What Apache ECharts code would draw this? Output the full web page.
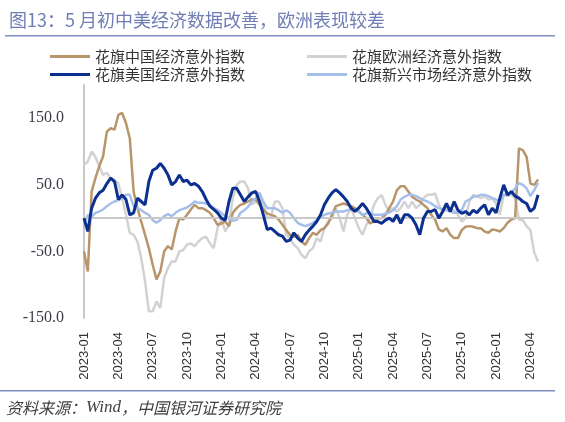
<!DOCTYPE html>
<html>
<head>
<meta charset="utf-8">
<script src="https://cdn.jsdelivr.net/npm/echarts@6/dist/echarts.min.js"></script>
<style>
  html, body { margin: 0; padding: 0; background: #fff; }
  #chart { width: 565px; height: 422px; }
</style>
</head>
<body>
<div id="chart"></div>
<script>
// three readings per month (1st, 11th, 21st), from 2023-01 to early 2026-05
var days = [1, 11, 21];
var dates = [];
for (var y = 2023; y <= 2026; y++) {
  for (var mo = 1; mo <= 12; mo++) {
    if (y === 2026 && mo > 4) break;
    for (var d = 0; d < 3; d++) {
      dates.push(y + '-' + (mo < 10 ? '0' + mo : mo) + '-' + (days[d] < 10 ? '0' + days[d] : days[d]));
    }
  }
}

var china = [
  -50, -80, 40, 60, 78, 93, 130, 135, 133, 155, 158, 143, 120, 40, 15, -5, -25, -45, -70, -92,
  -80, -50, -42, -47, -20, 0, -2, 5, 13, 20, 15, 15, 12, 8, 0, -10, -8, -5, -12, 8,
  15, 20, 22, 25, 28, 28, 20, 13, 7, 5, 3, -2, -10, -18, -25, -28, -25, -35, -40, -30,
  -22, -25, -18, -15, -8, 5, 18, 20, 22, 20, 18, 15, 10, 5, 0, -8, -5, 0, 0, 5,
  15, 25, 42, 48, 48, 40, 32, 28, 25, 20, 15, 5, -2, -17, -20, -15, -25, -30, -30, -18,
  -13, -12, -13, -15, -15, -20, -22, -17, -18, -20, -15, -7, -2, 0, 105, 102, 92, 52, 50, 58
];
var europe = [
  80, 85, 100, 92, 78, 65, 68, 60, 57, 52, 30, 5, -22, -25, -35, -60, -95, -140, -140, -125,
  -135, -90, -75, -65, -65, -50, -48, -40, -38, -42, -35, -30, -28, -38, -45, -15, 0, -20, -10, 30,
  50, 55, 55, 45, 20, 25, 35, 20, 0, 2, 25, 25, 15, -25, -30, -40, -45, -55, -60, -50,
  -45, -30, -35, -15, -5, 0, 15, 0, -20, 5, 15, 0, -15, -25, -10, 0, 20, 30, 35, 20,
  10, 15, 10, 15, 25, 15, 25, 15, 20, 30, 35, 35, 37, 20, 10, 15, 12, 12, 5, -5,
  0, 25, 35, 33, 30, 33, 28, 30, 22, 5, 35, 33, 35, 30, -2, -3, -12, -18, -52, -65
];
var us = [
  0, -20, 15, 30, 38, 42, 52, 60, 55, 28, 35, 28, 5, 8, 30, 25, 20, 55, 72, 75,
  82, 75, 65, 50, 55, 65, 55, 57, 50, 52, 48, 40, 28, 18, 13, 8, 0, -3, 25, 45,
  45, 35, 25, 32, 38, 40, 25, 5, -17, -15, -20, -25, -27, -35, -33, -22, -30, -35, -25, -18,
  -12, -5, 5, 20, 30, 38, 43, 38, 32, 25, 15, 10, 15, 22, 15, 5, -5, -5, -8, -3,
  0, -5, 5, -8, 5, 5, 0, -10, -25, 0, 10, 10, 13, 0, 10, 22, 10, 25, 12, 7,
  10, 5, 12, 8, 15, 20, 5, 15, 8, 30, 50, 35, 40, 33, 30, 25, 22, 10, 15, 35
];
var em = [
  -12, 5, 2, 8, 10, 13, 18, 22, 25, 27, 30, 35, 35, 18, 15, 12, 8, 5, -3, -7,
  -3, 3, 6, 3, 8, 12, 14, 16, 20, 25, 23, 23, 22, 20, 15, 12, 8, 3, 0, -4,
  -3, 8, 12, 17, 25, 30, 38, 25, 15, 15, 15, 12, 8, 12, 8, 0, -7, -10, -12, -10,
  -7, -3, 2, 5, 7, 8, 10, 10, 10, 12, 13, 12, 10, 5, 7, 8, 5, 5, 5, 7,
  8, 12, 18, 28, 32, 35, 35, 33, 30, 27, 25, 22, 18, 15, 13, 12, 10, 8, 8, 12,
  25, 28, 32, 33, 35, 35, 33, 30, 28, 25, 35, 35, 38, 45, 53, 50, 45, 33, 42, 53
];
var names = ['花旗中国经济意外指数', '花旗欧洲经济意外指数', '花旗美国经济意外指数', '花旗新兴市场经济意外指数'];
var yTicks = [-150, -50, 50, 150];

// month index since 2023-01 (fractional)
function monthPos(s) {
  var p = s.split('-');
  return (+p[0] - 2023) * 12 + (+p[1] - 1) + (+p[2] - 1) / 30;
}
function pairs(vals) {
  return vals.map(function (v, i) { return [monthPos(dates[i]), v]; });
}

var chart = echarts.init(document.getElementById('chart'));
var font = '"Noto Sans CJK SC", "Liberation Sans", sans-serif';
var legendBase = {
  top: 44, orient: 'vertical', icon: 'rect',
  itemWidth: 40, itemHeight: 3, itemGap: 3,
  textStyle: { fontSize: 15, color: '#333', fontFamily: font }
};

chart.setOption({
  animation: false,
  backgroundColor: '#fff',
  title: {
    text: '图13：5 月初中美经济数据改善，欧洲表现较差',
    left: 4,
    top: 6,
    textStyle: { fontSize: 18, fontWeight: 'normal', color: '#6f7db5', fontFamily: font }
  },
  legend: [
    Object.assign({ left: 45, data: [names[0], names[2]] }, legendBase),
    Object.assign({ left: 302, data: [names[1], names[3]] }, legendBase)
  ],
  grid: { left: 84, right: 26, top: 85, bottom: 104 },
  xAxis: {
    type: 'value',
    min: 0,
    max: 39.75,
    interval: 3,
    axisLine: { show: false },
    axisTick: { show: false },
    splitLine: { show: false },
    axisLabel: {
      rotate: 90,
      margin: 14,
      showMaxLabel: false,
      fontSize: 13,
      color: '#333',
      fontFamily: '"Liberation Sans", Arial, sans-serif',
      formatter: function (v) {
        var y = 2023 + Math.floor(v / 12);
        var m = v % 12 + 1;
        return y + '-' + (m < 10 ? '0' + m : m);
      }
    }
  },
  yAxis: {
    type: 'value',
    min: yTicks[0],
    max: 200,
    interval: 100,
    axisLine: { show: true, lineStyle: { color: '#c9c9c9', width: 2 } },
    axisTick: { show: false },
    splitLine: { show: false },
    axisLabel: {
      margin: 20,
      showMaxLabel: false,
      fontSize: 16,
      color: '#3a3a48',
      fontFamily: '"Liberation Serif", "Times New Roman", serif',
      formatter: function (v) { return v.toFixed(1); }
    }
  },
  series: [
    {
      name: names[1], type: 'line', symbol: 'none', z: 2,
      lineStyle: { color: '#d2d2d2', width: 2.5 }, itemStyle: { color: '#d2d2d2' },
      data: pairs(europe),
      markLine: {
        silent: true, symbol: 'none', label: { show: false },
        lineStyle: { color: '#c9c9c9', width: 2, type: 'solid' },
        data: [{ yAxis: 0 }]
      }
    },
    {
      name: names[0], type: 'line', symbol: 'none', z: 3,
      lineStyle: { color: '#b8956a', width: 2.5 }, itemStyle: { color: '#b8956a' },
      data: pairs(china)
    },
    {
      name: names[3], type: 'line', symbol: 'none', z: 4,
      lineStyle: { color: '#a6bfea', width: 2.5 }, itemStyle: { color: '#a6bfea' },
      data: pairs(em)
    },
    {
      name: names[2], type: 'line', symbol: 'none', z: 5,
      lineStyle: { color: '#0c3090', width: 3 }, itemStyle: { color: '#0c3090' },
      data: pairs(us)
    }
  ],
  graphic: [
    { type: 'rect', shape: { x: 5, y: 35, width: 550, height: 1.5 }, style: { fill: '#8090c0' } },
    { type: 'rect', shape: { x: 0, y: 390, width: 555, height: 1.5 }, style: { fill: '#8090c0' } },
    {
      type: 'text', left: 6, top: 399,
      style: {
        text: '{a|资料来源：}{b|Wind}{a|，中国银河证券研究院}',
        rich: {
          a: { fontSize: 16, fontStyle: 'italic', fill: '#404040', fontFamily: font },
          b: { fontSize: 17, fontStyle: 'italic', fill: '#404040', fontFamily: '"Liberation Serif", serif' }
        }
      }
    }
  ]
});
</script>
</body>
</html>
